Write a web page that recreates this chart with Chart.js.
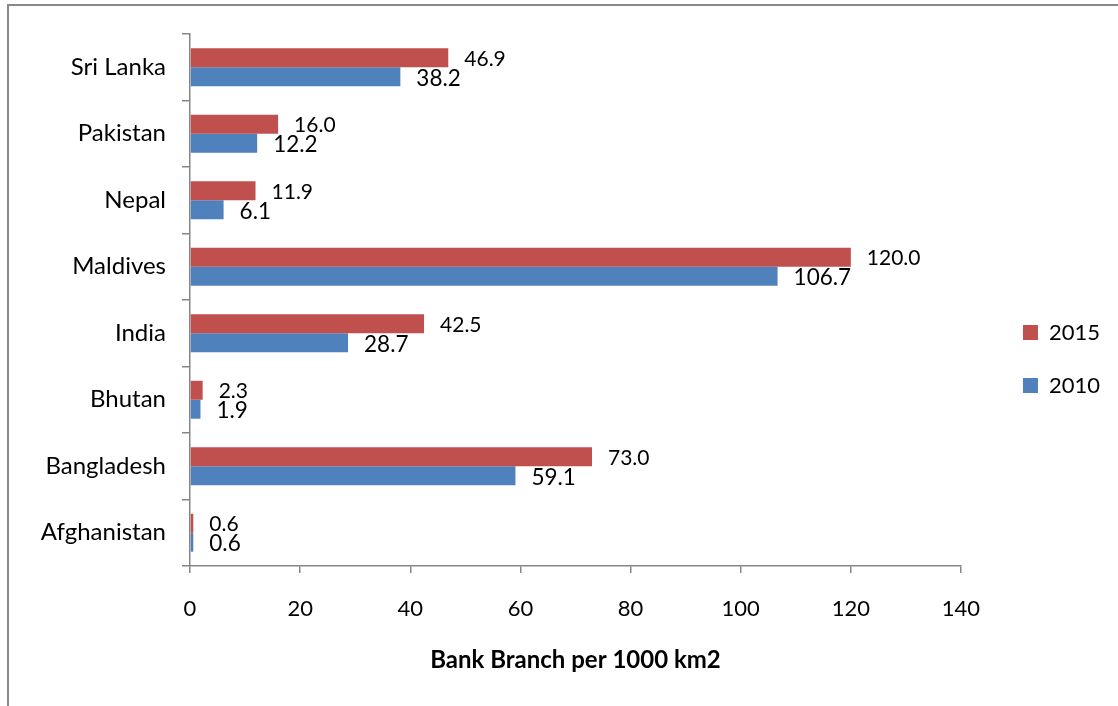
<!DOCTYPE html>
<html>
<head>
<meta charset="utf-8">
<title>Bank Branch per 1000 km2</title>
<script src="https://cdn.jsdelivr.net/npm/chart.js@4.4.1/dist/chart.umd.min.js"></script>
<style>
  html, body { margin: 0; padding: 0; background: #fff; }
  #wrap { position: relative; width: 1118px; height: 706px; overflow: hidden; }
  #frame { position: absolute; left: 7px; top: 4px; width: 1200px; height: 800px;
           border-top: 2px solid #898989; border-left: 2px solid #898989; }
  #chart { position: absolute; left: 0; top: 0; }
</style>
</head>
<body>
<div id="wrap">
  <div id="frame"></div>
  <canvas id="chart" width="1118" height="706"></canvas>
</div>
<script>
// paesi, dal basso verso l'alto
const countries = ['Afghanistan', 'Bangladesh', 'Bhutan', 'India', 'Maldives', 'Nepal', 'Pakistan', 'Sri Lanka'];
const values2015 = [0.6, 73.0, 2.3, 42.5, 120.0, 11.9, 16.0, 46.9];
const values2010 = [0.6, 59.1, 1.9, 28.7, 106.7, 6.1, 12.2, 38.2];
const xTicks = [0, 20, 40, 60, 80, 100, 120, 140];

const axisGray = '#868686';
const fontFamily = 'Lato, "Noto Sans", sans-serif';

// etichette con il valore accanto alla fine di ogni barra
const valueLabels = {
	id: 'valueLabels',
	afterDatasetsDraw(chart) {
		const ctx = chart.ctx;
		ctx.save();
		ctx.fillStyle = '#000';
		ctx.textAlign = 'left';
		ctx.textBaseline = 'middle';
		chart.data.datasets.forEach((ds, di) => {
			const meta = chart.getDatasetMeta(di);
			ctx.font = ds.labelSize + 'px ' + fontFamily;
			meta.data.forEach((bar, i) => {
				ctx.fillText(ds.data[i].toFixed(1), bar.x + 16, bar.y + ds.labelShift);
			});
		});
		ctx.restore();
	}
};

// sposta la legenda a destra, lontano dall'area del grafico
const legendShift = {
	id: 'legendShift',
	afterLayout(chart) {
		const lg = chart.legend;
		if (!lg) return;
		lg.left += 31; lg.right += 31;
		lg.top -= 11; lg.bottom -= 11;
	}
};

const ctx = document.getElementById('chart').getContext('2d');
const chart = new Chart(ctx, {
	type: 'bar',
	data: {
		labels: countries,
		datasets: [
			{ label: '2015', data: values2015, backgroundColor: '#C0504D', labelSize: 21, labelShift: 1 },
			{ label: '2010', data: values2010, backgroundColor: '#4F81BD', labelSize: 22.5, labelShift: 2 }
		]
	},
	options: {
		indexAxis: 'y',
		responsive: false,
		animation: false,
		categoryPercentage: 0.57,
		barPercentage: 1,
		layout: { padding: { top: 34, right: 39, left: 0, bottom: 0 } },
		plugins: {
			tooltip: { enabled: false },
			legend: {
				position: 'right',
				labels: {
					boxWidth: 15,
					boxHeight: 15,
					padding: 31,
					color: '#000',
					font: { family: fontFamily, size: 22 }
				}
			}
		},
		scales: {
			x: {
				min: 0,
				max: 140,
				afterBuildTicks: (scale) => { scale.ticks = xTicks.map(v => ({ value: v })); },
				afterFit: (scale) => { scale.height = 140; },
				border: { color: axisGray, width: 1.5 },
				grid: { drawOnChartArea: false, color: axisGray, lineWidth: 1.5, tickLength: 7 },
				ticks: { color: '#000', padding: 23, font: { family: fontFamily, size: 22 } },
				title: {
					display: true,
					text: 'Bank Branch per 1000 km2',
					color: '#000',
					padding: { top: 0, bottom: 31 },
					font: { family: fontFamily, size: 24, weight: 'bold' }
				}
			},
			y: {
				reverse: true,
				afterFit: (scale) => { scale.width = 190; },
				border: { color: axisGray, width: 1.5 },
				grid: { drawOnChartArea: false, color: axisGray, lineWidth: 1.5, tickLength: 8 },
				ticks: { color: '#000', padding: 16, font: { family: fontFamily, size: 24 } }
			}
		}
	},
	plugins: [valueLabels, legendShift]
});
</script>
</body>
</html>
